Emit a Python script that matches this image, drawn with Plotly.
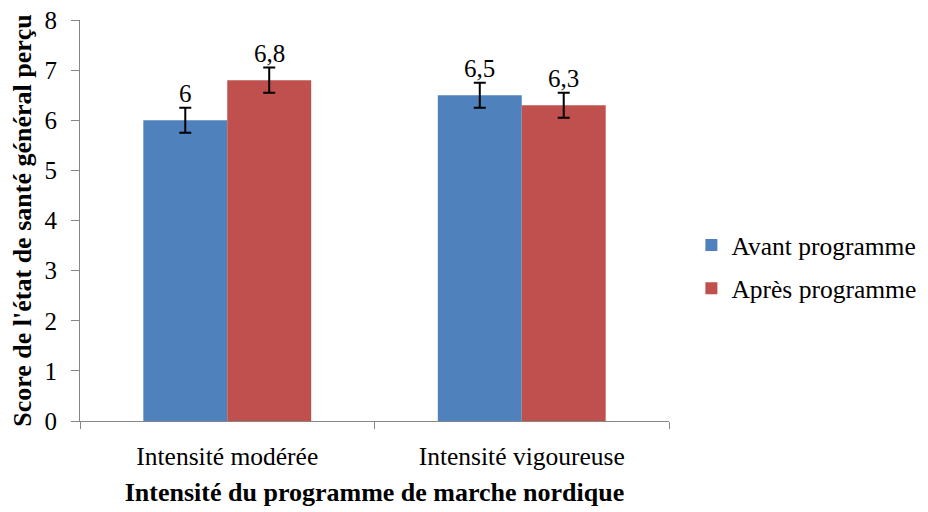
import plotly.graph_objects as go

categories = ["Intensité modérée", "Intensité vigoureuse"]
avant = [6.0, 6.5]
apres = [6.8, 6.3]
err_avant = [0.25, 0.25]
err_apres = [0.25, 0.25]
series_names = ["Avant programme", "Après programme"]
colors = ["#4F81BD", "#C0504D"]
y_ticks = [0, 1, 2, 3, 4, 5, 6, 7, 8]

FONT = "Liberation Serif"

fig = go.Figure()
for i, (vals, errs) in enumerate([(avant, err_avant), (apres, err_apres)]):
    fig.add_trace(go.Bar(
        x=categories, y=vals, name=series_names[i],
        marker=dict(color=colors[i], line=dict(width=0)),
        error_y=dict(type="data", array=errs, visible=True,
                     color="black", thickness=2, width=6),
        legendgroup=f"g{i}",
    ))

def fmt(v):
    s = f"{v:g}"
    return s.replace(".", ",")

annotations = []
for i, vals in enumerate([avant, apres]):
    shift = -42 if i == 0 else 42
    for c, v in zip(categories, vals):
        annotations.append(dict(
            x=c, y=v, xref="x", yref="y", text=fmt(v), showarrow=False,
            xshift=shift, yshift=11, yanchor="bottom",
            font=dict(family=FONT, size=25, color="black"),
        ))

fig.update_layout(
    width=928, height=512,
    margin=dict(l=71.5, r=266.5, t=12, b=99),
    paper_bgcolor="white", plot_bgcolor="white",
    barmode="group", bargap=0.43, bargroupgap=0,
    font=dict(family=FONT, color="black"),
    annotations=annotations,
    showlegend=True,
    legend=dict(x=1.038, y=0.384, xanchor="left", yanchor="middle",
                font=dict(family=FONT, size=25.5, color="black"),
                tracegroupgap=7, traceorder="grouped",
                bgcolor="rgba(0,0,0,0)"),
    separators=", ",
)
fig.update_xaxes(
    automargin=False,
    showline=True, linecolor="#868686", linewidth=1,
    ticks="outside", tickson="boundaries", ticklen=7, tickcolor="#868686",
    tickfont=dict(family=FONT, size=25.5, color="black"),
    ticklabelstandoff=12,
    title=dict(text="<b>Intensité du programme de marche nordique</b>",
               font=dict(family=FONT, size=26, color="black"), standoff=13),
    showgrid=False,
)
fig.update_yaxes(
    automargin=False, ticklabeloverflow="allow",
    range=[0, 8], tickvals=y_ticks,
    showline=True, linecolor="#868686", linewidth=1,
    ticks="outside", ticklen=8, tickcolor="#868686",
    tickfont=dict(family=FONT, size=25, color="black"),
    ticklabelstandoff=9,
    title=dict(text="<b>Score de l'état de santé général perçu</b>",
               font=dict(family=FONT, size=26, color="black"), standoff=9),
    showgrid=False, zeroline=False,
)

fig.write_html("out.html")
